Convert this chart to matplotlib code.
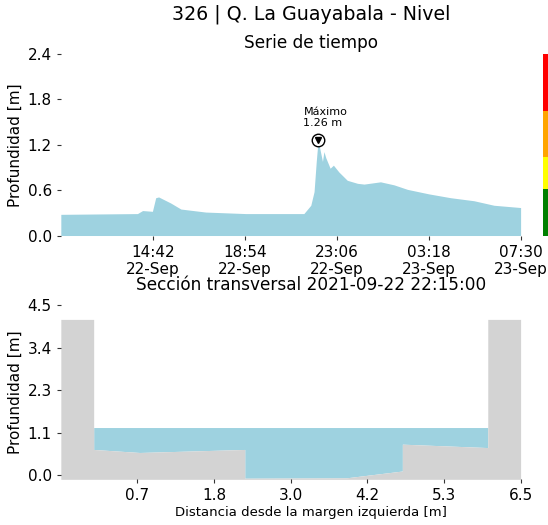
import matplotlib
matplotlib.use("Agg")
import matplotlib.pyplot as plt
import matplotlib.dates as mdates
import numpy as np
import pandas as pd

# serie de tiempo (lectura aproximada)
times = ["2021-09-22 10:30", "2021-09-22 14:00", "2021-09-22 14:14", "2021-09-22 14:41",
         "2021-09-22 14:50", "2021-09-22 14:58", "2021-09-22 15:31", "2021-09-22 15:59",
         "2021-09-22 17:07", "2021-09-22 18:57", "2021-09-22 21:14", "2021-09-22 21:36",
         "2021-09-22 21:55", "2021-09-22 22:04", "2021-09-22 22:10", "2021-09-22 22:15",
         "2021-09-22 22:27", "2021-09-22 22:31", "2021-09-22 22:36", "2021-09-22 22:48",
         "2021-09-22 22:57", "2021-09-22 23:12", "2021-09-22 23:35", "2021-09-23 00:03",
         "2021-09-23 00:21", "2021-09-23 01:06", "2021-09-23 01:43", "2021-09-23 02:20",
         "2021-09-23 03:19", "2021-09-23 04:18", "2021-09-23 05:22", "2021-09-23 06:17",
         "2021-09-23 07:30"]
level = [0.28, 0.29, 0.33, 0.32, 0.50, 0.51, 0.43, 0.35,
         0.31, 0.29, 0.29, 0.29, 0.40, 0.58, 0.98, 1.26,
         0.98, 1.11, 1.03, 0.89, 0.93, 0.84, 0.73, 0.69,
         0.68, 0.71, 0.67, 0.61, 0.55, 0.50, 0.46, 0.40,
         0.37]

# umbrales de alerta
alert_bounds = [0.0, 0.62, 1.04, 1.64, 2.4]
alert_colors = ["green", "yellow", "orange", "red"]

# seccion transversal
sec_x = [0.0, 0.7, 2.3, 2.3, 3.85, 4.7, 4.7, 6.0]
sec_z = [0.68, 0.60, 0.68, -0.08, -0.07, 0.11, 0.82, 0.73]
wall_left = [-0.5, 0.0]
wall_right = [6.0, 6.5]
wall_top = 4.12
water_level = 1.26

xsec_ticklabels = ["0.7", "1.8", "3.0", "4.2", "5.3", "6.5"]
zsec_ticklabels = ["0.0", "1.1", "2.3", "3.4", "4.5"]

water_color = "#9ed2e0"
ground_color = "lightgray"

t = pd.to_datetime(times)
tn = mdates.date2num(t)

fig = plt.figure(figsize=(5.48, 5.25), dpi=100)

# --- serie de tiempo
ax1 = fig.add_axes([0.111, 0.5514, 0.839, 0.3457])
ax1.fill_between(tn, 0, level, color=water_color, lw=0)
imax = int(np.argmax(level))
ax1.plot(tn[imax], level[imax], 'o', ms=9, mfc='white', mec='black', mew=1)
ax1.plot(tn[imax], level[imax], 'v', ms=5, color='black')
ax1.annotate("Máximo\n%.2f m" % level[imax], xy=(tn[imax], level[imax]),
             xytext=(-10.5, 8.5), textcoords='offset points', ha='left', va='bottom',
             fontsize=8)
ax1.set_xlim(tn[0], tn[-1])
ax1.set_ylim(0, 2.4)
ax1.set_yticks(np.linspace(0, 2.4, 5))
ax1.yaxis.set_major_formatter(matplotlib.ticker.FormatStrFormatter('%.1f'))
ax1.set_xticks(np.linspace(tn[0], tn[-1], 6)[1:])
ax1.xaxis.set_major_formatter(mdates.DateFormatter("%H:%M\n%d-%b"))
ax1.set_ylabel("Profundidad [m]", fontsize=11)
ax1.yaxis.set_label_coords(-0.082, 0.5)

# barra de alertas
axc = fig.add_axes([0.991, 0.5514, 0.03, 0.3457])
for i in range(len(alert_colors)):
    axc.bar(0, alert_bounds[i + 1] - alert_bounds[i], bottom=alert_bounds[i],
            width=1, color=alert_colors[i], lw=0)
axc.set_ylim(0, 2.4)
axc.set_xlim(-0.5, 0.5)
axc.axis('off')

# --- seccion transversal
ax2 = fig.add_axes([0.111, 0.087, 0.839, 0.332])
ax2.fill_between(sec_x, sec_z, water_level, color=water_color, lw=0)
gx = [wall_left[0], wall_left[1]] + sec_x + [wall_right[0], wall_right[1]]
gz = [wall_top, wall_top] + sec_z + [wall_top, wall_top]
ax2.fill_between(gx, -0.11, gz, color=ground_color, lw=0)
ax2.set_xlim(-0.5, 6.5)
ax2.set_ylim(-0.11, 4.5)
ax2.set_xticks(np.linspace(-0.5, 6.5, 7)[1:])
ax2.set_xticklabels(xsec_ticklabels)
ax2.set_yticks(np.linspace(0, 4.5, 5))
ax2.set_yticklabels(zsec_ticklabels)
ax2.set_ylabel("Profundidad [m]", fontsize=11)
ax2.yaxis.set_label_coords(-0.082, 0.5)
ax2.set_xlabel("Distancia desde la margen izquierda [m]", fontsize=9.5)
ax2.xaxis.label.set_va('center')
ax2.xaxis.set_label_coords(0.544, -0.188)

for ax in (ax1, ax2):
    for s in ax.spines.values():
        s.set_visible(False)
    ax.tick_params(labelsize=11, length=3, color='#333333')

fig.text(0.5675, 0.972, "326 | Q. La Guayabala - Nivel", ha='center', va='center', fontsize=13.7)
fig.text(0.5675, 0.919, "Serie de tiempo", ha='center', va='center', fontsize=12.2)
fig.text(0.5675, 0.457, "Sección transversal 2021-09-22 22:15:00", ha='center', va='center', fontsize=12.2)

fig.savefig("out.png", dpi=100)
